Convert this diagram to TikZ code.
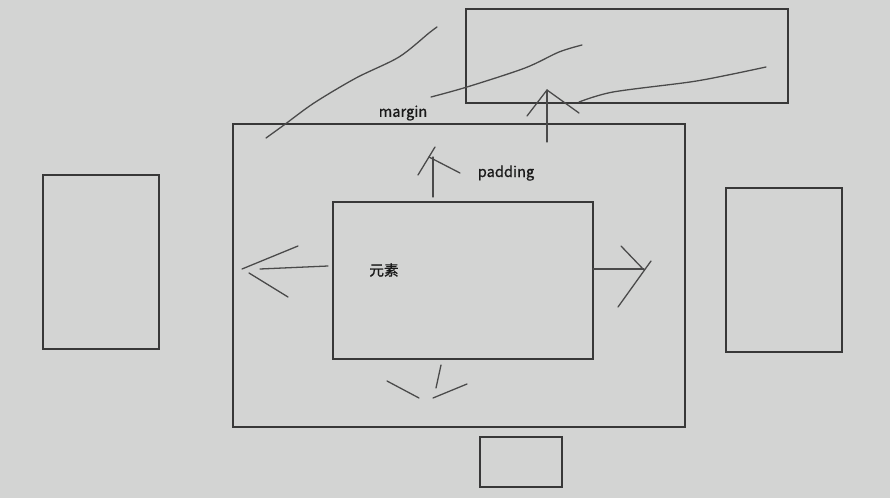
\documentclass[tikz,border=0pt]{standalone}
\usepackage{fontspec}
\setmainfont{Noto Sans CJK SC}
\newfontfamily\boardfont[FakeBold=0.8]{Noto Sans CJK SC}
\usepackage{tikz}
\usetikzlibrary{positioning}
\definecolor{boardbg}{HTML}{D3D4D3}
\definecolor{boardink}{HTML}{383838}
\definecolor{penink}{HTML}{4A4A4A}

\begin{document}
\begin{tikzpicture}[
    x=0.03cm, y=-0.03cm,
    boxline/.style={draw=boardink, line width=1.1pt},
    penline/.style={draw=penink, line width=1.1pt, line cap=round, line join=round},
    label/.style={font=\boardfont\fontsize{12.5}{14}\selectfont, text=black!90, inner sep=0pt}
]
% board
\fill[boardbg] (0,0) rectangle (890,498);
\useasboundingbox (0,0) rectangle (890,498);

% boxes
\draw[boxline] (233,124) rectangle (685,427);
\draw[boxline] (333,202) rectangle (593,359);
\draw[boxline] (466,9) rectangle (788,103);
\draw[boxline] (43,175) rectangle (159,349);
\draw[boxline] (726,188) rectangle (842,352);
\draw[boxline] (480,437) rectangle (562,487);

% labels
\node[label] (marginlbl) at (403,113) {margin};
\node[label] (paddinglbl) at (506,173) {padding};
\node[label] (elemlbl) at (384,270) {元素};

% pen strokes above
\draw[penline] plot[smooth, tension=0.5] coordinates {(266,138) (284,125) (314,103) (356,78) (399,57) (429,33) (437,27)};
\draw[penline] plot[smooth, tension=0.5] coordinates {(431,97) (467,87) (525,68) (559,52) (582,45)};
\draw[penline] plot[smooth, tension=0.5] coordinates {(579,102) (613,92) (690,82) (728,75) (766,67)};

% arrow up to the top box
\draw[penline] (547,142) -- (547,90);
\draw[penline] (527,116) -- (547,90) -- (579,113);

% padding arrow
\draw[penline] (433,197) -- (433,157);
\draw[penline] (418,175) -- (435,147);
\draw[penline] (429,157) -- (460,173);

% left arrow
\draw[penline] (328,266) -- (260,269);
\draw[penline] (298,246) -- (242,269);
\draw[penline] (249,273) -- (288,297);

% right arrow
\draw[penline] (593,269) -- (644,269);
\draw[penline] (621,246) -- (644,270);
\draw[penline] (651,261) -- (618,307);

% bottom arrow
\draw[penline] (441,365) -- (436,388);
\draw[penline] (387,381) -- (419,398);
\draw[penline] (433,398) -- (467,384);
\end{tikzpicture}
\end{document}
